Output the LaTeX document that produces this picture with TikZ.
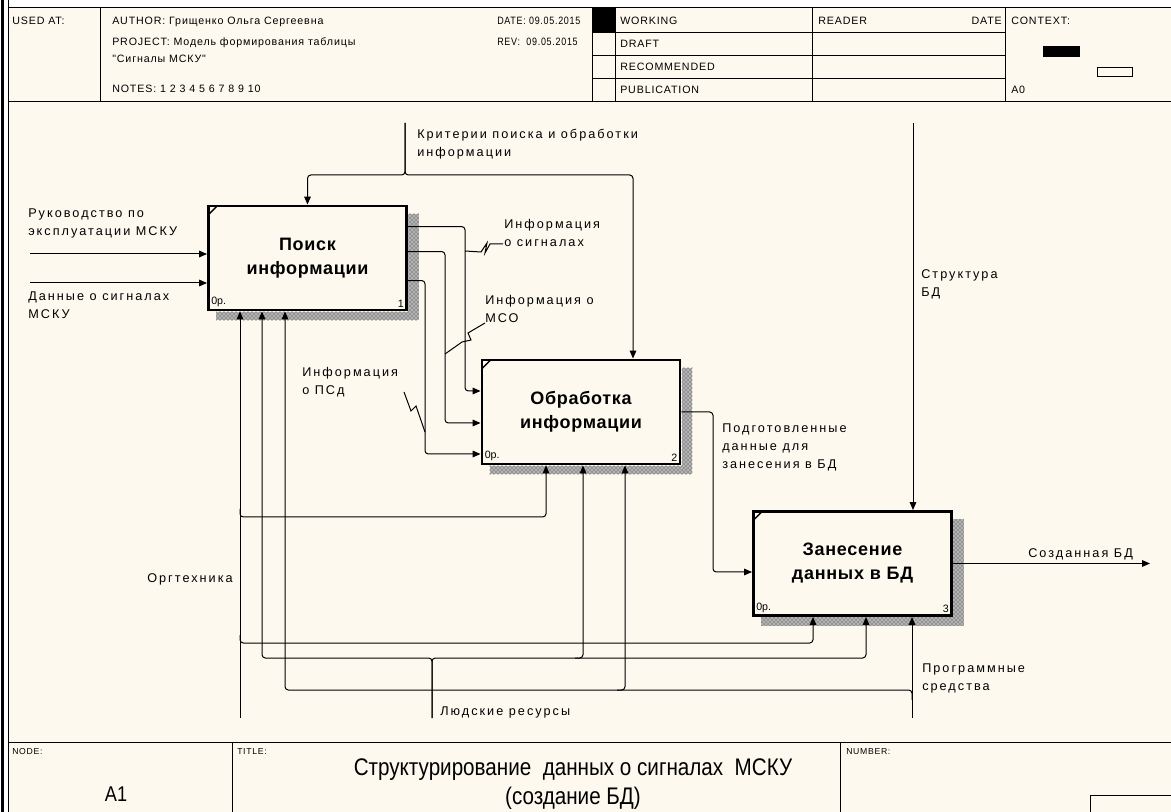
\documentclass[tikz,border=0pt]{standalone}
\usepackage{fontspec}
\setmainfont{Liberation Sans}
\newfontfamily\lblfont[LetterSpace=16]{Liberation Sans}
\newfontfamily\hdrfont[LetterSpace=8]{Liberation Sans}
\newfontfamily\boxfont[LetterSpace=4]{Liberation Sans}
\usetikzlibrary{arrows.meta,patterns,calc}
\definecolor{paper}{RGB}{253,249,238}

\begin{document}
\begin{tikzpicture}[x=0.75pt,y=-0.75pt,
  hdr/.style={font=\hdrfont\fontsize{8}{9}\selectfont, anchor=base west, inner sep=0},
  tiny/.style={font=\hdrfont\fontsize{6.5}{7}\selectfont, anchor=base west, inner sep=0},
  lbl/.style={font=\lblfont\fontsize{9.5}{13.5}\selectfont, align=left, anchor=north west, inner sep=0},
  fn/.style={draw, line width=2.2pt, fill=paper, minimum width=148.5pt, minimum height=78pt,
    align=center, font=\boxfont\bfseries\fontsize{13.5}{18}\selectfont, inner sep=0},
  tag/.style={font=\fontsize{8}{9}\selectfont, inner sep=0},
  arr/.style={line width=0.75pt, rounded corners=2.5pt, -{Triangle[length=6pt,width=5pt]}},
  ln/.style={line width=0.75pt, rounded corners=2.5pt},
  zig/.style={line width=0.75pt},
  shade/.style={fill=black!30, postaction={pattern=crosshatch dots, pattern color=black!80}},
  rule/.style={line width=0.75pt}]

% page
\fill[white] (0,0) rectangle (1171,812);
\fill[paper] (8,8) rectangle (1171,812);
\useasboundingbox (0,0) rectangle (1171,812);
\draw[line width=1.6pt] (2.5,0) -- (2.5,812);
\draw[rule] (8,0) -- (8,812);

% ---------- header ----------
\draw[rule] (8,8) -- (1171,8);
\draw[rule] (8,102) -- (1171,102);
\foreach \x in {100,592,615,812,1005} \draw[rule] (\x,8) -- (\x,102);
\foreach \y in {33,56,79} \draw[rule] (592,\y) -- (1005,\y);
\fill (592,8) rectangle (615,33);

\node[hdr] (usedat) at (12,25) {USED AT:};
\node[hdr] (author) at (112,25) {AUTHOR: Грищенко Ольга Сергеевна};
\node[hdr] (project) at (112,46) {PROJECT: Модель формирования таблицы};
\node[hdr] (project2) at (112,63) {"Сигналы МСКУ"};
\node[hdr] (notes) at (112,93) {NOTES: 1 2 3 4 5 6 7 8 9 10};
\node[hdr] (date) at (497,25) {\scalebox{0.84}[1]{DATE: 09.05.2015}};
\node[hdr] (rev) at (497,46) {\scalebox{0.84}[1]{REV: \ 09.05.2015}};
\node[hdr] (working) at (620,25) {WORKING};
\node[hdr] (draft) at (620,48) {DRAFT};
\node[hdr] (recom) at (620,71) {RECOMMENDED};
\node[hdr] (publ) at (620,94) {PUBLICATION};
\node[hdr] (reader) at (818,25) {READER};
\node[hdr, anchor=base east] (rdate) at (1002,25) {DATE};
\node[hdr] (context) at (1011,25) {CONTEXT:};
\node[hdr] (a0) at (1011,94) {A0};
\fill (1043,46) rectangle (1080,57);
\draw[rule] (1097,68) rectangle (1132,77);

% ---------- footer ----------
\draw[rule] (8,742) -- (1171,742);
\draw[rule] (232,742) -- (232,812);
\draw[rule] (840,742) -- (840,812);
\draw[rule] (1090,795) -- (1171,795);
\draw[rule] (1090,795) -- (1090,812);
\node[tiny] (nodelbl) at (12,754) {NODE:};
\node[tiny] (titlelbl) at (237,754) {TITLE:};
\node[tiny] (numlbl) at (846,754) {NUMBER:};
\node[inner sep=0] (nodeid) at (116,794) {\scalebox{0.85}[1]{\fontsize{16}{18}\selectfont A1}};
\node[inner sep=0] (title1) at (573,770) {\scalebox{0.86}[1]{\fontsize{18}{20}\selectfont Структурирование \ данных о сигналах \ МСКУ}};
\node[inner sep=0] (title2) at (573,798) {\scalebox{0.86}[1]{\fontsize{18}{20}\selectfont (создание БД)}};

% ---------- activity boxes ----------
\node[fn] (b1) at (307.5,258) {Поиск\\информации};
\node[fn] (b2) at (581,412) {Обработка\\информации};
\node[fn] (b3) at (852.5,563.5) {Занесение\\данных в БД};

\foreach \b/\n in {b1/1,b2/2,b3/3}{
  \path[shade] ($(\b.north east)+(0.5,9)$) rectangle ($(\b.south east)+(11,9)$);
  \path[shade] ($(\b.south west)+(9,0.5)$) rectangle ($(\b.south east)+(0.5,9)$);
  \draw[line width=1pt] ($(\b.north west)+(1.5,10)$) -- ($(\b.north west)+(10,1.5)$);
  \node[tag, anchor=south west] (\b op) at ($(\b.south west)+(4,-4)$) {0р.};
  \node[tag, anchor=south east] (\b num) at ($(\b.south east)+(-4,-4)$) {\n};
}

% ---------- inputs ----------
\coordinate (i1) at (30,254);
\coordinate (i2) at (30,283);
\draw[arr] (i1) -- (i1 -| b1.west);
\draw[arr] (i2) -- (i2 -| b1.west);
\node[lbl] (l-ruk) at (28,209) {Руководство по\\эксплуатации МСКУ};
\node[lbl] (l-dan) at (28,292) {Данные о сигналах\\МСКУ};

% ---------- controls ----------
\coordinate (c0) at (405,123);
\coordinate (c1) at (405,175);
\coordinate (c2) at (633,175);
\draw[arr] (c0) |- (c1 -| b1.north) -- (b1.north);
\draw[arr] (c0) |- (c2) -- (c2 |- b2.north);
\node[lbl] (l-krit) at (417,129) {Критерии поиска и обработки\\информации};

\coordinate (s0) at (913,123);
\draw[arr] (s0) -- (s0 |- b3.north);
\node[lbl] (l-str) at (921,269) {Структура\\БД};

% ---------- box 1 -> box 2 ----------
\coordinate (k1) at (465,391);
\coordinate (k2) at (445,423);
\coordinate (k3) at (425,454);
\draw[arr] ($(b1.north east)+(0,22)$) -| (k1) -- (k1 -| b2.west);
\draw[arr] ($(b1.north east)+(0,47)$) -| (k2) -- (k2 -| b2.west);
\draw[arr] ($(b1.north east)+(0,76)$) -| (k3) -- (k3 -| b2.west);

\node[lbl] (l-sig) at (504,219) {Информация\\о сигналах};
\draw[zig] (465,251) -- (481,252) -- (487,243) -- (485,253) -- (490,244) -- (503,244);
\node[lbl] (l-mso) at (485,295) {Информация о\\МСО};
\draw[zig] (485,323) -- (468,333) -- (471,340) -- (462,342) -- (445,354);
\node[lbl] (l-psd) at (302,367) {Информация\\о ПСд};
\draw[zig] (404,392) -- (411,411) -- (416,406) -- (425,432);

% ---------- box 2 -> box 3 ----------
\coordinate (k4) at (713,572);
\draw[arr] (b2.east) -| (k4) -- (k4 -| b3.west);
\node[lbl] (l-pod) at (722,424) {Подготовленные\\данные для\\занесения в БД};

% ---------- output ----------
\coordinate (o3) at (1150,0);
\draw[arr] (b3.east) -- (b3.east -| o3);
\node[lbl] (l-sozd) at (1028,548) {Созданная БД};

% ---------- mechanisms ----------
% office equipment
\coordinate (m0) at (240,718);
\coordinate (m1) at (240,509);
\coordinate (m2) at (546,517);
\coordinate (m3) at (240,635);
\coordinate (m4) at (813,643);
\draw[arr] (m0) -- (m0 |- b1.south);
\draw[arr] (m1) |- (m2) -- (m2 |- b2.south);
\draw[arr] (m3) |- (m4) -- (m4 |- b3.south);
\node[lbl, anchor=north east] (l-org) at (233,573) {Оргтехника};

% staff
\coordinate (h0) at (432,718);
\coordinate (h1) at (262,658);
\coordinate (h2) at (583,658);
\coordinate (h3) at (866,658);
\coordinate (h2s) at (575,658);
\draw[arr] (h0) |- (h1) -- (h1 |- b1.south);
\draw[arr] (h0) |- (h3) -- (h3 |- b3.south);
\draw[arr] (h2s) -| (h2 |- b2.south);
\node[lbl] (l-lud) at (440,707) {Людские ресурсы};

% software
\coordinate (p0) at (912,718);
\coordinate (p0j) at (912,700);
\coordinate (p1) at (285,690);
\coordinate (p2) at (625,690);
\coordinate (p2s) at (617,690);
\draw[arr] (p0) -- (p0 |- b3.south);
\draw[arr] (p0j) |- (p1) -- (p1 |- b1.south);
\draw[arr] (p2s) -| (p2 |- b2.south);
\node[lbl] (l-prog) at (922,664) {Программные\\средства};

\end{tikzpicture}
\end{document}
